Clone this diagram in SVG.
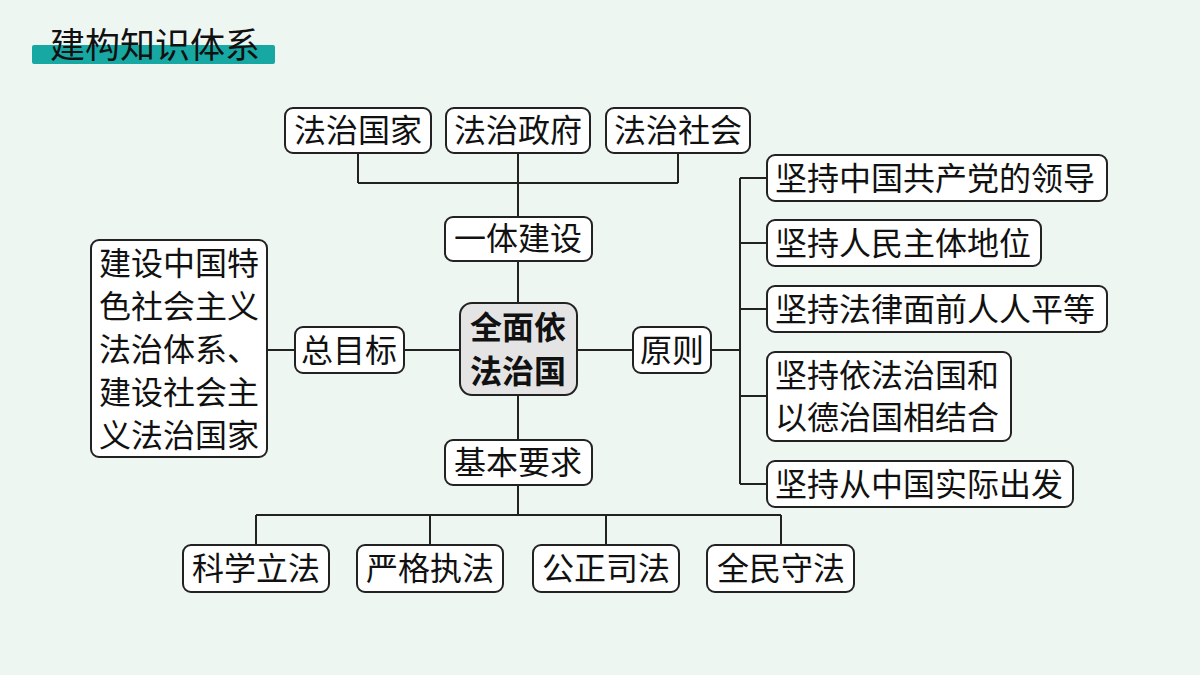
<svg xmlns="http://www.w3.org/2000/svg" width="1200" height="675" viewBox="0 0 1200 675">
<style>
.b{fill:#fff;stroke:#222;stroke-width:2}
.t{font-family:"Noto Sans CJK SC",sans-serif;font-size:32px;fill:#111;text-anchor:middle}
.s{text-anchor:start}
.l{fill:none;stroke:#222;stroke-width:2}
</style>
<rect width="1200" height="675" fill="#eef6f2"/>
<g id="title"><rect x="32" y="45" width="243" height="19" rx="2" fill="#17a8a4"/><text x="50" y="58" font-family="Noto Sans CJK SC,sans-serif" font-size="35" fill="#111">建构知识体系</text></g>
<g id="connectors" class="l">
<path d="M358 153V183M518 153V217M678 153V183M358 183H678"/>
<path d="M518 261V303M518 395V440M518 485V515M256 515H781M256 515V545M430 515V545M606 515V545M781 515V545"/>
<path d="M267 350H295M404 350H460M577 350H633M711 350H740M740 178V484M740 178H767M740 243H767M740 309H767M740 396H767M740 484H767"/>
</g>
<g id="n1"><rect class="b" x="285" y="108" width="146" height="45" rx="8"/><text class="t" x="358" y="142">法治国家</text></g>
<g id="n2"><rect class="b" x="446" y="108" width="144" height="45" rx="8"/><text class="t" x="518" y="142">法治政府</text></g>
<g id="n3"><rect class="b" x="606" y="108" width="144" height="45" rx="8"/><text class="t" x="678" y="142">法治社会</text></g>
<g id="n4"><rect class="b" x="445" y="217" width="147" height="44" rx="8"/><text class="t" x="518" y="250">一体建设</text></g>
<g id="center"><rect x="460" y="303" width="117" height="92" rx="12" fill="#e4e4e4" stroke="#222" stroke-width="2"/><text class="t" x="518" y="339" font-size="30" font-weight="bold">全面依</text><text class="t" x="518" y="383" font-size="30" font-weight="bold">法治国</text></g>
<g id="n5"><rect class="b" x="91" y="240" width="176" height="217" rx="8"/>
<text class="t" x="179" y="275">建设中国特</text><text class="t" x="179" y="318">色社会主义</text><text class="t" x="179" y="361">法治体系、</text><text class="t" x="179" y="404">建设社会主</text><text class="t" x="179" y="447">义法治国家</text></g>
<g id="n6"><rect class="b" x="295" y="327" width="109" height="46" rx="8"/><text class="t" x="349" y="362">总目标</text></g>
<g id="n7"><rect class="b" x="633" y="327" width="78" height="46" rx="8"/><text class="t" x="672" y="362">原则</text></g>
<g id="r1"><rect class="b" x="767" y="155" width="340" height="46" rx="8"/><text class="t s" x="775" y="190">坚持中国共产党的领导</text></g>
<g id="r2"><rect class="b" x="767" y="220" width="274" height="46" rx="8"/><text class="t s" x="775" y="255">坚持人民主体地位</text></g>
<g id="r3"><rect class="b" x="767" y="286" width="340" height="46" rx="8"/><text class="t s" x="775" y="321">坚持法律面前人人平等</text></g>
<g id="r4"><rect class="b" x="767" y="352" width="244" height="89" rx="8"/><text class="t s" x="775" y="387">坚持依法治国和</text><text class="t s" x="775" y="429">以德治国相结合</text></g>
<g id="r5"><rect class="b" x="767" y="461" width="306" height="46" rx="8"/><text class="t s" x="775" y="496">坚持从中国实际出发</text></g>
<g id="n8"><rect class="b" x="445" y="440" width="147" height="45" rx="8"/><text class="t" x="518" y="474">基本要求</text></g>
<g id="b1"><rect class="b" x="183" y="545" width="146" height="47" rx="8"/><text class="t" x="256" y="580">科学立法</text></g>
<g id="b2"><rect class="b" x="357" y="545" width="146" height="47" rx="8"/><text class="t" x="430" y="580">严格执法</text></g>
<g id="b3"><rect class="b" x="533" y="545" width="146" height="47" rx="8"/><text class="t" x="606" y="580">公正司法</text></g>
<g id="b4"><rect class="b" x="707" y="545" width="147" height="47" rx="8"/><text class="t" x="781" y="580">全民守法</text></g>
</svg>
